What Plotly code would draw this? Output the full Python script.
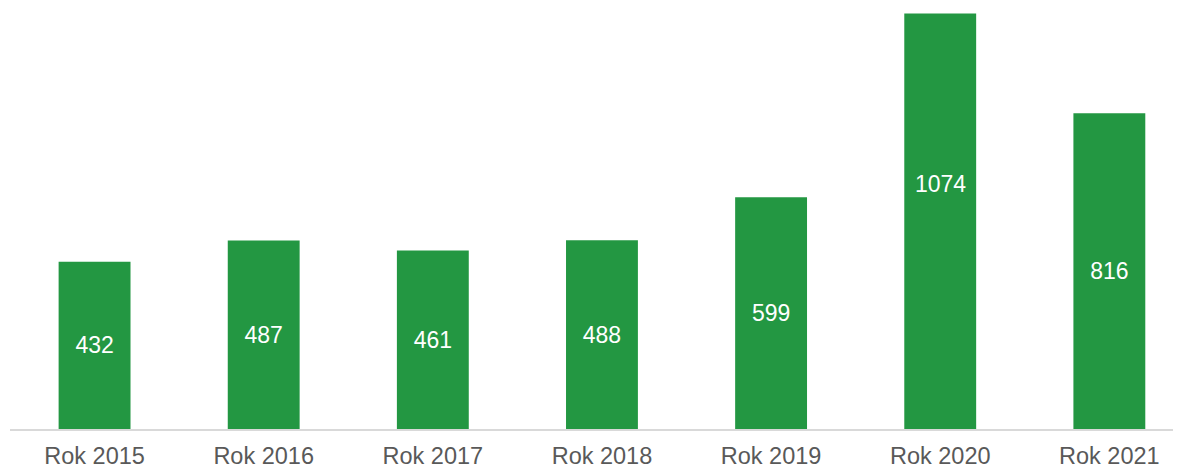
import plotly.graph_objects as go

categories = ["Rok 2015", "Rok 2016", "Rok 2017", "Rok 2018", "Rok 2019", "Rok 2020", "Rok 2021"]
values = [432, 487, 461, 488, 599, 1074, 816]

positions = ["inside"] * len(values)
positions[5] = "none"

FONT = "Liberation Sans, Arial, sans-serif"

fig = go.Figure()
fig.add_trace(go.Bar(
    x=categories, y=values,
    marker=dict(color="#239742", line=dict(width=0)),
    text=[str(v) for v in values],
    textposition=positions,
    insidetextanchor="middle",
    textangle=0,
    insidetextfont=dict(color="white", size=23, family=FONT),
    hoverinfo="skip",
))
fig.add_annotation(
    x=categories[5], y=values[5] / 2, text=str(values[5]),
    showarrow=False, yshift=37,
    font=dict(color="white", size=23, family=FONT),
)
fig.update_layout(
    width=1173, height=458,
    margin=dict(l=2, r=4, t=0, b=37, autoexpand=False),
    paper_bgcolor="white", plot_bgcolor="white",
    bargap=0.575,
    showlegend=False,
    font=dict(family=FONT),
)
fig.update_xaxes(
    range=[-0.5, 6.4],
    automargin=False,
    showline=True, linecolor="#d9d9d9", linewidth=1.5,
    ticks="outside", ticklen=5, tickcolor="rgba(0,0,0,0)",
    tickfont=dict(size=23.5, color="#595959"),
    showgrid=False,
)
fig.update_yaxes(range=[0, 1088], visible=False, showgrid=False, automargin=False)
fig.write_html("out.html")
